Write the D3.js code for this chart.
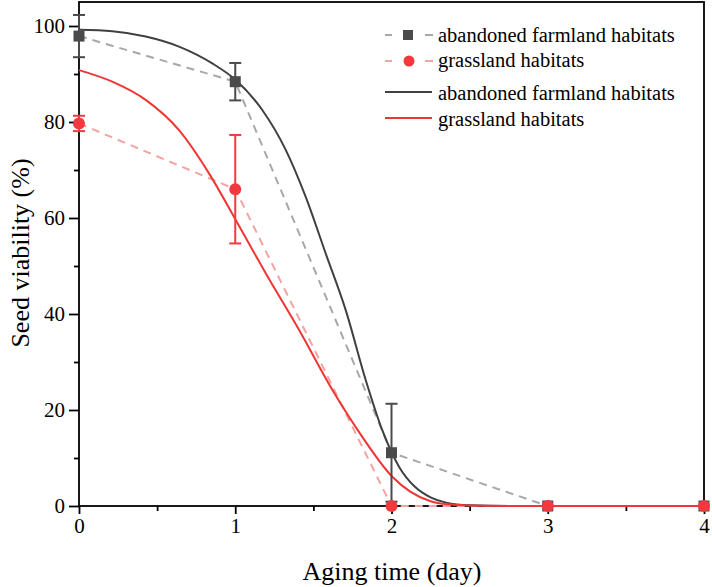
<!DOCTYPE html>
<html><head><meta charset="utf-8">
<script src="https://cdn.jsdelivr.net/npm/d3@7"></script>
<style>body{margin:0;background:#fff}svg{display:block}</style>
</head><body><svg id="c" width="712" height="587"></svg>
<script>
// Measured data
const days = [0, 1, 2, 3, 4];
const farmMean = [97.9, 88.4, 11.1, 0, 0];
const farmErr  = [4.4, 3.9, 10.2, 0, 0];
const grassMean = [79.7, 66.0, 0, 0, 0];
const grassErr  = [1.6, 11.3, 0, 0, 0];
// Fitted curves
const farmFitX = [0, 0.213, 0.427, 0.64, 0.853, 1.003, 1.173, 1.323, 1.451, 1.579, 1.707, 1.835, 1.941, 2.048, 2.15, 2.25, 2.35, 2.5, 2.75, 3, 4];
const farmFit  = [99.2, 98.9, 97.8, 95.7, 92.2, 88.75, 82.5, 74.2, 64.4, 52.6, 40.8, 26.25, 15.8, 8.2, 4.0, 1.8, 0.7, 0.15, 0, 0, 0];
const grassFitX = [0, 0.213, 0.427, 0.64, 0.832, 1.003, 1.195, 1.408, 1.621, 1.813, 2.005, 2.12, 2.25, 2.4, 2.6, 3, 4];
const grassFit  = [90.8, 88.4, 84.6, 78.3, 69.3, 59.6, 48.5, 36.7, 24.2, 14.4, 6.1, 3.0, 1.0, 0.25, 0.03, 0, 0];
const xTicks = [0, 1, 2, 3, 4];
const yTicks = [0, 20, 40, 60, 80, 100];
const legendLabels = ["abandoned farmland habitats", "grassland habitats", "abandoned farmland habitats", "grassland habitats"];

const FONT = "'Liberation Serif','Times New Roman',serif";
const cDark = "#4a4a4a", cDarkDash = "#a8a8a8", cDarkFit = "#404040";
const cRed = "#f03a3e", cRedDash = "#f4a3a3", cRedFit = "#f03535";

const svg = d3.select("#c");
const L = 79, R = 704, T = 2, B = 506;
const x = d3.scaleLinear().domain([0, 4]).range([L, R]);
const y = d3.scaleLinear().domain([0, 105]).range([B, T]);

svg.append("rect").attr("x", L).attr("y", T).attr("width", R - L).attr("height", B - T)
  .attr("fill", "none").attr("stroke", "#000").attr("stroke-width", 1.8);

const xAx = svg.append("g").attr("transform", `translate(0,${B})`)
  .call(d3.axisBottom(x).tickValues(xTicks).tickFormat(d3.format("d")).tickSize(8).tickPadding(4));
const xMin = svg.append("g").attr("transform", `translate(0,${B})`)
  .call(d3.axisBottom(x).tickValues([0.5, 1.5, 2.5, 3.5]).tickFormat("").tickSize(5));
const yAx = svg.append("g").attr("transform", `translate(${L},0)`)
  .call(d3.axisLeft(y).tickValues(yTicks).tickSize(10).tickPadding(4));
const yMin = svg.append("g").attr("transform", `translate(${L},0)`)
  .call(d3.axisLeft(y).tickValues([10, 30, 50, 70, 90]).tickFormat("").tickSize(5));
[xAx, xMin, yAx, yMin].forEach(g => {
  g.select(".domain").remove();
  g.selectAll("line").attr("stroke", "#000").attr("stroke-width", 1.8);
  g.selectAll("text").style("font-size", "21px").style("font-family", FONT).attr("fill", "#000");
});

svg.append("text").attr("x", 392).attr("y", 580).attr("text-anchor", "middle")
  .style("font-size", "26px").style("font-family", FONT).text("Aging time (day)");
svg.append("text").attr("transform", `translate(29,253) rotate(-90)`).attr("text-anchor", "middle")
  .style("font-size", "26px").style("font-family", FONT).text("Seed viability (%)");

const plot = svg.append("g");
const lineFn = d3.line().x(d => x(d[0])).y(d => y(d[1]));
const fitFn = d3.line().x(d => x(d[0])).y(d => y(d[1])).curve(d3.curveMonotoneX);

plot.append("path").datum(days.map((d, i) => [d, farmMean[i]])).attr("d", lineFn)
  .attr("fill", "none").attr("stroke", cDarkDash).attr("stroke-width", 2).attr("stroke-dasharray", "8,6");
plot.append("path").datum(days.map((d, i) => [d, grassMean[i]])).attr("d", lineFn)
  .attr("fill", "none").attr("stroke", cRedDash).attr("stroke-width", 2).attr("stroke-dasharray", "8,6");
plot.append("path").datum(farmFitX.map((d, i) => [d, farmFit[i]])).attr("d", fitFn)
  .attr("fill", "none").attr("stroke", cDarkFit).attr("stroke-width", 2);
plot.append("path").datum(grassFitX.map((d, i) => [d, grassFit[i]])).attr("d", fitFn)
  .attr("fill", "none").attr("stroke", cRedFit).attr("stroke-width", 2);

function errBars(means, errs, col) {
  days.forEach((d, i) => {
    if (!errs[i]) return;
    const g = plot.append("g").attr("stroke", col).attr("stroke-width", 2);
    const lo = Math.max(0, means[i] - errs[i]), hi = means[i] + errs[i];
    g.append("line").attr("x1", x(d)).attr("x2", x(d)).attr("y1", y(lo)).attr("y2", y(hi));
    [lo, hi].forEach(v => g.append("line").attr("x1", x(d) - 6).attr("x2", x(d) + 6).attr("y1", y(v)).attr("y2", y(v)));
  });
}
errBars(farmMean, farmErr, cDark);
errBars(grassMean, grassErr, cRed);

plot.selectAll(".sq").data(days).enter().append("rect")
  .attr("x", d => x(d) - 5.5).attr("y", (d, i) => y(farmMean[i]) - 5.5)
  .attr("width", 11).attr("height", 11).attr("fill", cDark);
plot.selectAll(".ci").data(days).enter().append("circle")
  .attr("cx", d => x(d)).attr("cy", (d, i) => y(grassMean[i])).attr("r", 6).attr("fill", cRed);

// legend
const lg = svg.append("g");
const rows = [35, 61, 92, 118];
const bases = [42, 67, 100, 126];
[[cDarkDash, cDark, "sq"], [cRedDash, cRed, "ci"]].forEach((s, i) => {
  const yy = rows[i];
  lg.append("line").attr("x1", 385).attr("x2", 392).attr("y1", yy).attr("y2", yy).attr("stroke", s[0]).attr("stroke-width", 2);
  lg.append("line").attr("x1", 425).attr("x2", 433).attr("y1", yy).attr("y2", yy).attr("stroke", s[0]).attr("stroke-width", 2);
  if (s[2] === "sq") lg.append("rect").attr("x", 403).attr("y", yy - 5).attr("width", 10).attr("height", 10).attr("fill", s[1]);
  else lg.append("circle").attr("cx", 409).attr("cy", yy).attr("r", 5.5).attr("fill", s[1]);
});
[cDarkFit, cRedFit].forEach((c, i) => {
  const yy = rows[i + 2];
  lg.append("line").attr("x1", 385).attr("x2", 432).attr("y1", yy).attr("y2", yy).attr("stroke", c).attr("stroke-width", 2);
});
legendLabels.forEach((t, i) => {
  lg.append("text").attr("x", 438).attr("y", bases[i]).style("font-size", "20.5px").style("font-family", FONT).text(t);
});
</script></body></html>
